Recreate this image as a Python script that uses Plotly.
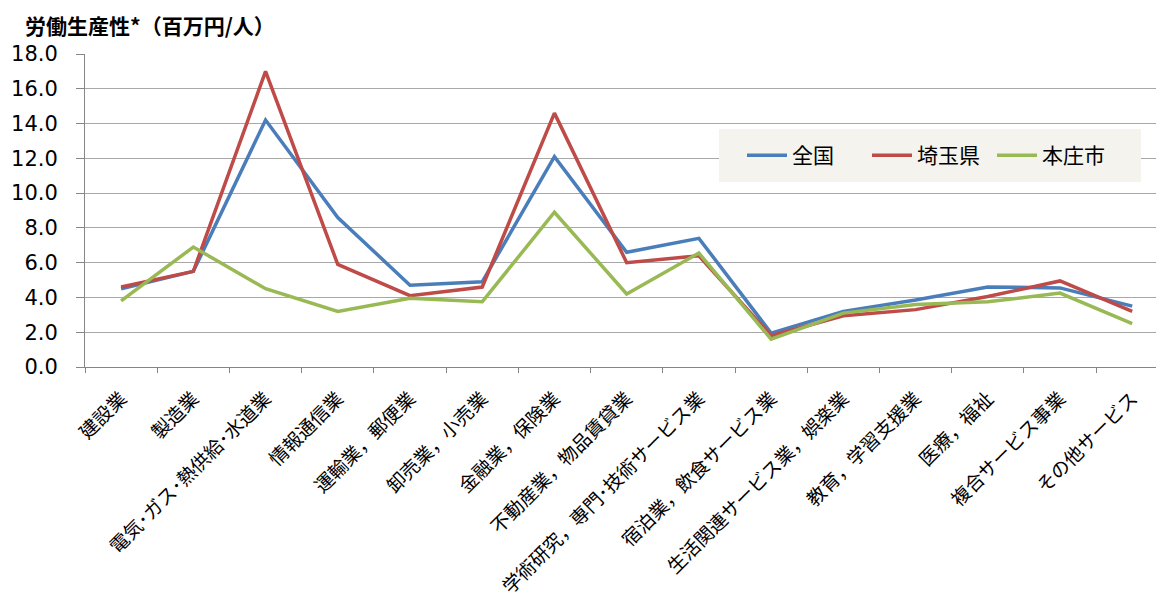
import plotly.graph_objects as go

categories = [
    "建設業", "製造業", "電気･ガス･熱供給･水道業", "情報通信業", "運輸業，郵便業",
    "卸売業，小売業", "金融業，保険業", "不動産業，物品賃貸業", "学術研究，専門･技術サービス業",
    "宿泊業，飲食サービス業", "生活関連サービス業，娯楽業", "教育，学習支援業",
    "医療，福祉", "複合サービス事業", "その他サービス",
]
zenkoku = [4.5, 5.5, 14.2, 8.6, 4.7, 4.9, 12.1, 6.6, 7.4, 1.95, 3.2, 3.85, 4.6, 4.55, 3.5]
saitama = [4.6, 5.5, 17.0, 5.9, 4.1, 4.6, 14.6, 6.0, 6.4, 1.8, 2.95, 3.3, 4.05, 4.95, 3.2]
honjo = [3.8, 6.9, 4.5, 3.2, 3.95, 3.75, 8.9, 4.2, 6.55, 1.6, 3.1, 3.6, 3.75, 4.25, 2.5]
series_names = ["全国", "埼玉県", "本庄市"]
colors = ["#4A7EBB", "#BE4B48", "#98B954"]
y_ticks = [0, 2, 4, 6, 8, 10, 12, 14, 16, 18]

# page body has an 8px margin; compensate so the figure lines up with the window
OFF = 8
W, H = 1164 - OFF, 598 - OFF
L, T = 85 - OFF, 54 - OFF
B = 598 - 367
R = 0

fig = go.Figure()
for name, vals, col in zip(series_names, [zenkoku, saitama, honjo], colors):
    fig.add_trace(go.Scatter(
        x=categories, y=vals, name=name, mode="lines",
        line=dict(color=col, width=3.5),
    ))

pw = W - L - R
ph = H - T - B

def px_x(p):
    return (p - OFF - L) / pw

def px_y(p):
    return (H - B - (p - OFF)) / ph

# legend background box
fig.add_shape(type="rect", xref="paper", yref="paper",
              x0=px_x(719), x1=px_x(1141), y0=px_y(182), y1=px_y(129),
              fillcolor="#F4F3EE", line=dict(width=0), layer="above")

fig.add_annotation(
    text="<b>労働生産性*（百万円/人）</b>", xref="paper", yref="paper",
    x=px_x(24), y=px_y(OFF + 0.5), xanchor="left", yanchor="top", showarrow=False,
    font=dict(size=21, color="#000000", family="Noto Sans CJK JP"),
    borderpad=0,
)

fig.update_layout(
    width=W, height=H,
    margin=dict(l=L, r=R, t=T, b=B, autoexpand=False),
    plot_bgcolor="white", paper_bgcolor="white",
    font=dict(family="Noto Sans CJK JP", color="#000000"),
    showlegend=True,
    legend=dict(
        orientation="h", x=px_x(742), y=px_y(155.5), xanchor="left", yanchor="middle",
        bgcolor="rgba(0,0,0,0)", font=dict(size=21, family="Noto Sans CJK JP"),
        entrywidth=70, itemwidth=40,
    ),
    xaxis=dict(
        type="category", range=[-0.5, 14.44], automargin=False,
        showline=True, linecolor="#868686", linewidth=1,
        ticks="outside", tickson="boundaries", ticklen=5, tickcolor="#868686",
        tickangle=-45, tickfont=dict(size=19, family="Noto Sans CJK JP"),
        ticklabelstandoff=12,
        showgrid=False,
    ),
    yaxis=dict(
        range=[0, 18], tickvals=y_ticks, tickformat=".1f", automargin=False,
        showline=True, linecolor="#868686", linewidth=1,
        ticks="outside", ticklen=8, tickcolor="#868686",
        showgrid=True, gridcolor="#A8A8A8", gridwidth=1,
        tickfont=dict(size=21, family="DejaVu Sans"),
        ticklabelstandoff=14,
        zeroline=False,
    ),
)

fig.write_html("out.html")
